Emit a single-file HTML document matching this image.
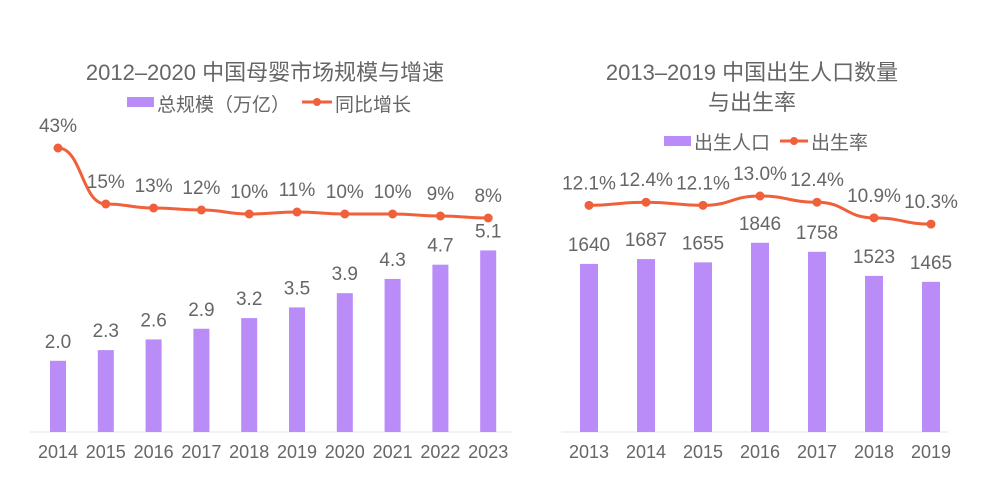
<!DOCTYPE html>
<html><head><meta charset="utf-8"><style>
body{margin:0;background:#fff;}
svg text{font-family:"Liberation Sans","Noto Sans CJK SC",sans-serif;fill:#666;}
</style></head><body>
<svg id="s" width="1000" height="472" viewBox="0 0 1000 472">
<rect width="1000" height="472" fill="#fff"/>
<g>
<text x="265" y="80" font-size="22" text-anchor="middle">2012–2020 中国母婴市场规模与增速</text>
<g>
<rect x="127" y="97" width="27" height="10" fill="#b98cf8"/>
<text x="157" y="111" font-size="19">总规模（万亿）</text>
<line x1="302" y1="102" x2="332" y2="102" stroke="#f0603a" stroke-width="3"/>
<circle cx="317" cy="102" r="4" fill="#f0603a"/>
<text x="335" y="111" font-size="19">同比增长</text>
</g>
<line x1="30" y1="432" x2="512" y2="432" stroke="#e6e6e6"/>
<g id="L"></g>
</g>
<g>
<text x="752" y="80" font-size="22" text-anchor="middle">2013–2019 中国出生人口数量</text>
<text x="752" y="110" font-size="22" text-anchor="middle">与出生率</text>
<g>
<rect x="664" y="136" width="27" height="10" fill="#b98cf8"/>
<text x="694" y="149" font-size="19">出生人口</text>
<line x1="780" y1="141" x2="808" y2="141" stroke="#f0603a" stroke-width="3"/>
<circle cx="794" cy="141" r="4" fill="#f0603a"/>
<text x="811" y="149" font-size="19">出生率</text>
</g>
<line x1="561" y1="432" x2="948" y2="432" stroke="#e6e6e6"/>
<g id="R"></g>
</g>
</svg>
<script>
const leftYears=["2014","2015","2016","2017","2018","2019","2020","2021","2022","2023"];
const leftSize=[2.0,2.3,2.6,2.9,3.2,3.5,3.9,4.3,4.7,5.1];
const leftGrowth=[43,15,13,12,10,11,10,10,9,8];
const rightYears=["2013","2014","2015","2016","2017","2018","2019"];
const rightBirths=[1640,1687,1655,1846,1758,1523,1465];
const rightRate=[12.1,12.4,12.1,13.0,12.4,10.9,10.3];
const NS="http://www.w3.org/2000/svg";
function mk(p,tag,a){const e=document.createElementNS(NS,tag);for(const k in a)e.setAttribute(k,a[k]);p.appendChild(e);return e;}
function draw(g,cats,bars,line,xs,yb,yl,bw,fmtB,fmtL,pre){
  const pts=[];
  cats.forEach((c,i)=>{
    const x=xs(i),y=yb(bars[i]);
    const r=mk(g,'rect',{x:x-bw/2,y:y,width:bw,height:432-y,fill:'#b98cf8'});
    
    
    const t=mk(g,'text',{x:x,y:y-13,'font-size':19,'text-anchor':'middle'});t.textContent=fmtB(bars[i]);
    
    
    const xl=mk(g,'text',{x:x,y:458,'font-size':18,'text-anchor':'middle'});xl.textContent=c;
    
    
    pts.push([x,yl(line[i])]);
  });
  let d='M'+pts[0][0]+','+pts[0][1];
  for(let i=1;i<pts.length;i++){const p=pts[i-1],q=pts[i],m=(p[0]+q[0])/2;d+=` C${m},${p[1]} ${m},${q[1]} ${q[0]},${q[1]}`;}
  const pa=mk(g,'path',{d:d,fill:'none',stroke:'#f0603a','stroke-width':3});
  
  
  pts.forEach((p,i)=>{
    const c=mk(g,'circle',{cx:p[0],cy:p[1],r:4.5,fill:'#f0603a'});
    
    
    const t=mk(g,'text',{x:p[0],y:p[1]-16,'font-size':19,'text-anchor':'middle'});t.textContent=fmtL(line[i]);
    
    
  });
}
draw(document.getElementById('L'),leftYears,leftSize,leftGrowth,i=>58+i*47.8,v=>432-v*35.6,v=>204-(v-15)*2,16,v=>v.toFixed(1),v=>v+'%','left');
draw(document.getElementById('R'),rightYears,rightBirths,rightRate,i=>589+i*57,v=>432-v*0.1025,v=>196-(v-13)*10.4,18,v=>String(v),v=>v.toFixed(1)+'%','right');
</script>
</body></html>
